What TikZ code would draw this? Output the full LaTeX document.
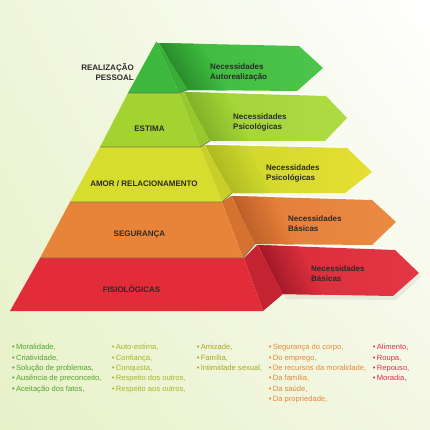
\documentclass[tikz,border=0pt]{standalone}
\usepackage{fontspec}
\setmainfont{Liberation Sans}
\usetikzlibrary{shadings,calc}
\definecolor{bgll}{HTML}{E8F1C8}
\definecolor{bgul}{HTML}{EFF5DA}
\definecolor{bglr}{HTML}{F3F7E3}
\definecolor{labelgray}{HTML}{2A2A2A}
\definecolor{gFront}{HTML}{3DB83C}
\definecolor{gSide}{HTML}{38AE38}
\definecolor{gFold}{HTML}{2A8E2D}
\definecolor{gArrL}{HTML}{3EB83E}
\definecolor{gArrR}{HTML}{4CC54A}
\definecolor{lFront}{HTML}{A3D330}
\definecolor{lSide}{HTML}{97C92E}
\definecolor{lFold}{HTML}{82B328}
\definecolor{lArrL}{HTML}{A0D236}
\definecolor{lArrR}{HTML}{AEDB43}
\definecolor{yFront}{HTML}{D7DD2C}
\definecolor{ySide}{HTML}{C8CF28}
\definecolor{yFold}{HTML}{B0BB22}
\definecolor{yArrL}{HTML}{CBD62D}
\definecolor{yArrR}{HTML}{E6DF30}
\definecolor{oFront}{HTML}{E8843A}
\definecolor{oSide}{HTML}{D6722F}
\definecolor{oFold}{HTML}{BE6129}
\definecolor{oArrL}{HTML}{E27C38}
\definecolor{oArrR}{HTML}{EB8A43}
\definecolor{rFront}{HTML}{E22D38}
\definecolor{rSide}{HTML}{C42431}
\definecolor{rFold}{HTML}{A51B29}
\definecolor{rArrL}{HTML}{D82C3A}
\definecolor{rArrR}{HTML}{E43745}
\definecolor{cOne}{HTML}{4FA62C}
\definecolor{cTwo}{HTML}{A3B823}
\definecolor{cThree}{HTML}{A8A71E}
\definecolor{cFour}{HTML}{E8873A}
\definecolor{cFive}{HTML}{E0304C}
% tier: #1 arrow path coords A,B,C,D,E ; #2 prefix
\newcommand{\tierarrow}[7]{%
  % #1=A #2=B #3=C #4=D #5=E #6=color prefix #7=band width
  \begin{scope}
    \clip #1 -- #2 -- #3 -- #4 -- #5 -- cycle;
    \shade[left color=#6ArrL, right color=#6ArrR] #1 -- #2 -- #3 -- #4 -- #5 -- cycle;
    \foreach \i in {0,...,15}{%
      \pgfmathsetmacro\pct{100-\i*100/15}%
      \fill[#6Fold!\pct!#6ArrL] ($#1+(\i*#7/16-0.2,-3)$) -- ($#1+(\i*#7/16+#7/16+0.3,-3)$)
        -- ($#5+(\i*#7/16+#7/16+0.3,3)$) -- ($#5+(\i*#7/16-0.2,3)$) -- cycle;
    }
  \end{scope}}
\begin{document}
\begin{tikzpicture}[x=1pt,y=-1pt,
  tierlbl/.style={font=\bfseries\fontsize{8}{10}\selectfont, text=labelgray, inner sep=0pt},
  arrtxt/.style={font=\bfseries\fontsize{8}{10}\selectfont, text=labelgray, align=left, anchor=west, inner sep=0pt},
  itemlist/.style={font=\fontsize{7.6}{10.35}\selectfont, align=left, anchor=north west, inner sep=0pt},
  edgeline/.style={draw=black!65, line width=0.7pt, opacity=0.7},
  hilite/.style={draw=white, line width=1.1pt},
  arrshadow/.style={fill=black, opacity=0.06}]
\useasboundingbox (0,0) rectangle (430,430);
\shade[lower left=bgll, upper left=bgul, upper right=white, lower right=bglr] (0,0) rectangle (430,430);

% ---------- tier 5 (red) ----------
\fill[arrshadow] (262,250) -- (398,254) -- (421,277) -- (396,300) -- (286,299) -- cycle;
\draw[hilite] (262,244.2) -- (392,248.2);
\tierarrow{(257,245)}{(395,250)}{(419,273)}{(393,296)}{(283,294)}{r}{40}
\fill[rSide] (244,258) -- (257,245) -- (283,294) -- (263,311) -- cycle;
\fill[rFront] (40,258) -- (244,258) -- (263,311) -- (10,311) -- cycle;

% ---------- tier 4 (orange) ----------
\draw[hilite] (236,195.2) -- (369,199.2);
\tierarrow{(231,196)}{(372,200)}{(396,222)}{(372,245)}{(255,244)}{o}{40}
\fill[oSide] (222,202) -- (231,196) -- (255,244) -- (243,258) -- cycle;
\fill[oFront] (70,202) -- (222,202) -- (243,258) -- (40,258) -- cycle;
\draw[edgeline] (40,258) -- (243,258) -- (255,244);

% ---------- tier 3 (yellow) ----------
\draw[hilite] (209,144.2) -- (344,147.2);
\tierarrow{(204,145)}{(347,148)}{(372,172)}{(345,193)}{(232,193)}{y}{40}
\fill[ySide] (200,147) -- (204,145) -- (232,193) -- (222,202) -- cycle;
\fill[yFront] (100,147) -- (200,147) -- (222,202) -- (70,202) -- cycle;
\draw[edgeline] (70,202) -- (222,202) -- (232,193);

% ---------- tier 2 (lime) ----------
\draw[hilite] (188,91.2) -- (323,95.2);
\tierarrow{(183,92)}{(326,96)}{(347,118)}{(325,141)}{(210,141)}{l}{40}
\fill[lSide] (179,93) -- (183,92) -- (210,141) -- (200,147) -- cycle;
\fill[lFront] (128,93) -- (179,93) -- (200,147) -- (100,147) -- cycle;
\draw[edgeline] (100,147) -- (200,147) -- (210,141);

% ---------- tier 1 (green) ----------
\tierarrow{(158,43)}{(299,46)}{(323,68)}{(297,91)}{(188,90)}{g}{40}
\fill[gSide] (156,42) -- (158,43) -- (188,90) -- (179,93) -- cycle;
\fill[gFront] (156,42) -- (179,93) -- (128,93) -- cycle;
\draw[edgeline] (128,93) -- (179,93) -- (188,90);

% ---------- labels ----------
\node[tierlbl, align=right, anchor=east] (lreal) at (134,72) {REALIZAÇÃO\\PESSOAL};
\node[tierlbl] (lest) at (149.5,129) {ESTIMA};
\node[tierlbl] (lamor) at (144,183.5) {AMOR / RELACIONAMENTO};
\node[tierlbl] (lseg) at (139.5,235) {SEGURANÇA};
\node[tierlbl] (lfis) at (131.5,288.5) {FISIOLÓGICAS};

\node[arrtxt] (a1) at (210,72) {Necessidades\\Autorealização};
\node[arrtxt] (a2) at (233,122) {Necessidades\\Psicológicas};
\node[arrtxt] (a3) at (266,173) {Necessidades\\Psicológicas};
\node[arrtxt] (a4) at (288,224) {Necessidades\\Básicas};
\node[arrtxt] (a5) at (311,274) {Necessidades\\Básicas};

% ---------- lists ----------
\node[itemlist, text=cOne] (col1) at (12,344) {•\,Moralidade,\\•\,Criatividade,\\•\,Solução de problemas,\\•\,Ausência de preconceito,\\•\,Aceitação dos fatos,};
\node[itemlist, text=cTwo] (col2) at (111.7,344) {•\,Auto-estima,\\•\,Confiança,\\•\,Conquista,\\•\,Respeito dos outros,\\•\,Respeito aos outros,};
\node[itemlist, text=cThree] (col3) at (196.7,344) {•\,Amizade,\\•\,Família,\\•\,Intimidade sexual,};
\node[itemlist, text=cFour] (col4) at (268.7,344) {•\,Segurança do corpo,\\•\,Do emprego,\\•\,De recursos da moralidade,\\•\,Da família,\\•\,Da saúde,\\•\,Da propriedade,};
\node[itemlist, text=cFive] (col5) at (372.7,344) {•\,Alimento,\\•\,Roupa,\\•\,Repouso,\\•\,Moradia,};
\end{tikzpicture}
\end{document}
